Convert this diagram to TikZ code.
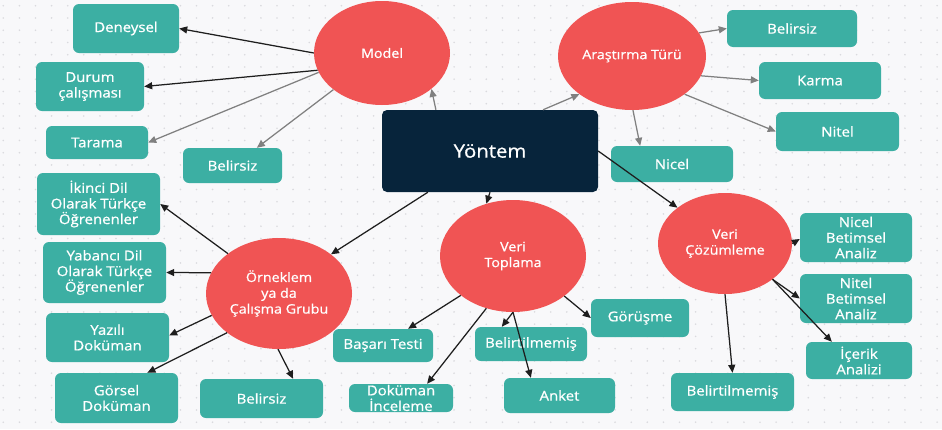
\documentclass[tikz,border=0pt]{standalone}
\usepackage{fontspec}
\setmainfont{Open Sans}[FakeStretch=1.1,FakeBold=0.8]
\usetikzlibrary{shapes.geometric,arrows.meta,calc}
\definecolor{bgc}{HTML}{F8F8FA}
\definecolor{dotc}{HTML}{DADADE}
\definecolor{redn}{HTML}{F05454}
\definecolor{tealn}{HTML}{3CAFA3}
\definecolor{navy}{HTML}{07243B}
\definecolor{grayline}{HTML}{808080}
\definecolor{blackline}{HTML}{1E1E1E}
\begin{document}
\begin{tikzpicture}[x=1pt,y=-1pt,
  leaf/.style={fill=tealn, rounded corners=6pt, text=white, align=center, inner sep=0pt,
    font=\fontsize{13.6}{15.6}\selectfont},
  hub/.style={ellipse, fill=redn, text=white, align=center, inner sep=0pt,
    font=\fontsize{13}{15.8}\selectfont},
  blk/.style={draw=blackline, line width=1.25pt, -{Triangle[length=8pt,width=7pt]}},
  gry/.style={draw=grayline, line width=1.25pt, -{Triangle[length=8pt,width=7pt]}}]
% background
\fill[bgc] (0,0) rectangle (942,429);
\useasboundingbox (0,0) rectangle (942,429);
\foreach \i in {0,...,58} {
  \foreach \j in {0,...,34} {
    \fill[dotc] (3.3+16.1*\i, 5.7+12.25*\j) circle (0.9pt);
  }
}
% central node
\node[fill=navy, rounded corners=5pt, text=white, minimum width=216pt, minimum height=82pt,
  font=\fontsize{18.5}{22}\selectfont] (yontem) at (490,151) {Yöntem};
% hubs
\node[hub, minimum width=136pt, minimum height=104pt] (model) at (382,53) {Model};
\node[hub, minimum width=148pt, minimum height=108pt] (arast) at (632,56) {Araştırma Türü};
\node[hub, minimum width=146pt, minimum height=111pt] (orn) at (279,293.5) {Örneklem\\ya da\\Çalışma Grubu};
\node[hub, minimum width=146pt, minimum height=112pt] (vt) at (513,256) {Veri\\Toplama};
\node[hub, minimum width=134pt, minimum height=101pt] (vc) at (725,243.5) {Veri\\Çözümleme};
% leaves of Model
\node[leaf, minimum width=106pt, minimum height=49pt] (deneysel) at (126,28.5) {Deneysel};
\node[leaf, minimum width=108pt, minimum height=49pt] (durum) at (90,86.5) {Durum\\çalışması};
\node[leaf, minimum width=102pt, minimum height=33pt] (tarama) at (97,142.5) {Tarama};
\node[leaf, minimum width=99pt, minimum height=35pt] (belm) at (232.5,165.5) {Belirsiz};
% leaves of Arastirma
\node[leaf, minimum width=130pt, minimum height=37pt] (bela) at (792,28.5) {Belirsiz};
\node[leaf, minimum width=122pt, minimum height=37pt] (karma) at (820,80.5) {Karma};
\node[leaf, minimum width=123pt, minimum height=39pt] (nitel) at (837.5,131.5) {Nitel};
\node[leaf, minimum width=122pt, minimum height=36pt] (nicel) at (672,164) {Nicel};
% leaves of Orneklem
\node[leaf, minimum width=123pt, minimum height=62pt] (ikinci) at (98.5,204) {İkinci Dil\\Olarak Türkçe\\Öğrenenler};
\node[leaf, minimum width=123pt, minimum height=61pt] (yabanci) at (104.5,272.5) {Yabancı Dil\\Olarak Türkçe\\Öğrenenler};
\node[leaf, minimum width=123pt, minimum height=49pt] (yazili) at (107.5,337.5) {Yazılı\\Doküman};
\node[leaf, minimum width=123pt, minimum height=50pt] (gorsel) at (116.5,398) {Görsel\\Doküman};
\node[leaf, minimum width=123pt, minimum height=39pt] (belo) at (261.5,398.5) {Belirsiz};
% leaves of Veri Toplama
\node[leaf, minimum width=100pt, minimum height=33pt] (basari) at (383,345.5) {Başarı Testi};
\node[leaf, minimum width=104pt, minimum height=28pt] (dokinc) at (401,398) {Doküman\\İnceleme};
\node[leaf, minimum width=112pt, minimum height=34pt] (beltt) at (531,344) {Belirtilmemiş};
\node[leaf, minimum width=111pt, minimum height=35pt] (anket) at (559.5,395.5) {Anket};
\node[leaf, minimum width=98pt, minimum height=38pt] (gorusme) at (640,318) {Görüşme};
% leaves of Veri Cozumleme
\node[leaf, minimum width=112pt, minimum height=49pt] (nicelbet) at (856,237.5) {Nicel\\Betimsel\\Analiz};
\node[leaf, minimum width=112pt, minimum height=49pt] (nitelbet) at (856,298.5) {Nitel\\Betimsel\\Analiz};
\node[leaf, minimum width=106pt, minimum height=37pt] (icerik) at (859,360.5) {İçerik\\Analizi};
\node[leaf, minimum width=123pt, minimum height=38pt] (beltc) at (732.5,392) {Belirtilmemiş};
% connectors from Yontem
\draw[gry] ($(yontem.north west)!.25!(yontem.north east)$) -- (model.324);
\draw[gry] ($(yontem.north west)!.745!(yontem.north east)$) -- (arast.216);
\draw[blk] (yontem.east) -- (vc.143);
\draw[blk] (yontem.south) -- (vt.117);
\draw[blk] ($(yontem.south west)!.213!(yontem.south east)$) -- (orn.37);
% Model
\draw[blk] (model.180) -- (deneysel.east);
\draw[blk] (model.195) -- (durum.east);
\draw[gry] (model.197) -- (tarama.east);
\draw[gry] (model.217) -- ($(belm.north west)!.745!(belm.north east)$);
% Arastirma
\draw[gry] (arast.19) -- (bela.west);
\draw[gry] (arast.344) -- (karma.west);
\draw[gry] (arast.324) -- (nitel.west);
\draw[gry] (arast.271) -- ($(nicel.north west)!.24!(nicel.north east)$);
% Orneklem
\draw[blk] (orn.142) -- (ikinci.east);
\draw[blk] (orn.163) -- (yabanci.east);
\draw[blk] (orn.198) -- ($(yazili.east)+(0,-2)$);
\draw[blk] (orn.217) -- ($(gorsel.north west)!.75!(gorsel.north east)$);
\draw[blk] (orn.269) -- ($(belo.north west)!.756!(belo.north east)$);
% Veri Toplama
\draw[blk] (vt.217) -- ($(basari.north west)!.75!(basari.north east)$);
\draw[blk] (vt.243) -- ($(dokinc.north west)!.75!(dokinc.north east)$);
\draw[blk] (vt.270) -- ($(beltt.north west)!.24!(beltt.north east)$);
\draw[blk] (vt.270) -- ($(anket.north west)!.243!(anket.north east)$);
\draw[blk] (vt.322) -- (gorusme.west);
% Veri Cozumleme
\draw[blk] (vc.0) -- ($(nicelbet.west)+(0,1.5)$);
\draw[blk] (vc.323) -- (nitelbet.west);
\draw[blk] (vc.323) -- ($(icerik.north west)!.245!(icerik.north east)$);
\draw[blk] (vc.270) -- (beltc.north);
\end{tikzpicture}
\end{document}
